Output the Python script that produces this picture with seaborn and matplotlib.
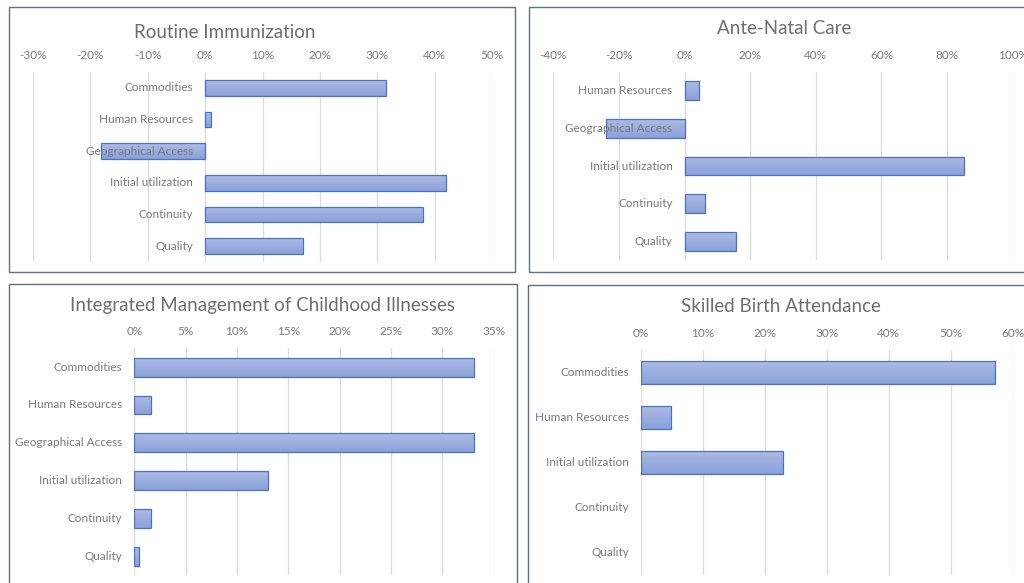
import numpy as np
import pandas as pd
import matplotlib
matplotlib.use("Agg")
import matplotlib.pyplot as plt
from matplotlib.colors import LinearSegmentedColormap
from matplotlib.patches import Rectangle
import seaborn as sns

# ---- data -----------------------------------------------------------------
ri_categories = ["Commodities", "Human Resources", "Geographical Access",
                 "Initial utilization", "Continuity", "Quality"]
ri_values = [0.315, 0.010, -0.181, 0.419, 0.379, 0.170]
ri_ticks = [-0.30, -0.20, -0.10, 0.00, 0.10, 0.20, 0.30, 0.40, 0.50]

anc_categories = ["Human Resources", "Geographical Access", "Initial utilization",
                  "Continuity", "Quality"]
anc_values = [0.044, -0.239, 0.852, 0.062, 0.158]
anc_ticks = [-0.40, -0.20, 0.00, 0.20, 0.40, 0.60, 0.80, 1.00]

imci_categories = ["Commodities", "Human Resources", "Geographical Access",
                   "Initial utilization", "Continuity", "Quality"]
imci_values = [0.331, 0.016, 0.331, 0.130, 0.016, 0.005]
imci_ticks = [0.00, 0.05, 0.10, 0.15, 0.20, 0.25, 0.30, 0.35]

sba_categories = ["Commodities", "Human Resources", "Initial utilization",
                  "Continuity", "Quality"]
sba_values = [0.571, 0.049, 0.230, 0.0, 0.0]
sba_ticks = [0.00, 0.10, 0.20, 0.30, 0.40, 0.50, 0.60]

titles = ["Routine Immunization", "Ante-Natal Care",
          "Integrated Management of Childhood Illnesses", "Skilled Birth Attendance"]

# ---- style ----------------------------------------------------------------
sns.set_style("white")
plt.rcParams["font.family"] = ["Lato", "DejaVu Sans"]

W, H = 1024, 583
fig = plt.figure(figsize=(W / 100, H / 100), dpi=100)
fig.patch.set_facecolor("white")

TEXT = "#7a7a7a"
TITLE = "#6e6e6e"
GRID = "#dcdcdc"
EDGE = "#4a72c4"
FRAME = "#607083"
grad_cmap = LinearSegmentedColormap.from_list("bar", ["#adbbe4", "#8aa1d9"])


def px_axes(left, top, right, bottom):
    return fig.add_axes([left / W, 1 - bottom / H, (right - left) / W, (bottom - top) / H])


def frame(left, top, right, bottom):
    fig.add_artist(Rectangle((left / W, 1 - bottom / H), (right - left) / W,
                             (bottom - top) / H, transform=fig.transFigure,
                             fill=False, edgecolor=FRAME, linewidth=1.0, zorder=0))


panels = [
    # categories, values, ticks, axes box (px), frame box (px), title pos (px)
    (ri_categories, ri_values, ri_ticks, (33, 72, 492, 262), (9, 7, 515, 272), (225, 32)),
    (anc_categories, anc_values, anc_ticks, (553.3, 72, 1012.7, 260), (529, 7, 1030, 272), (784, 28)),
    (imci_categories, imci_values, imci_ticks, (134.3, 348.3, 493.7, 575), (9, 284, 517, 590), (262.5, 305)),
    (sba_categories, sba_values, sba_ticks, (641, 350, 1012.7, 575), (528, 285, 1030, 590), (781, 306)),
]

for (cats, vals, ticks, box, fbox, tpos), title in zip(panels, titles):
    frame(*fbox)
    ax = px_axes(*box)
    df = pd.DataFrame({"category": cats, "value": vals})
    sns.barplot(data=df, x="value", y="category", order=cats, orient="h",
                width=0.5, color="#9aaede", ax=ax, zorder=2)

    n = len(cats)
    ax.set_xlim(ticks[0], ticks[-1])
    ax.set_ylim(n - 0.5, -0.5)

    # gradient fill inside each bar, outlined in blue
    for patch in list(ax.patches):
        x0, y0 = patch.get_x(), patch.get_y()
        w, h = patch.get_width(), patch.get_height()
        if not np.isfinite(w) or abs(w) < 1e-9:
            patch.set_visible(False)
            continue
        patch.set_facecolor("none")
        patch.set_edgecolor(EDGE)
        patch.set_linewidth(0.9)
        patch.set_zorder(3)
        grad = np.linspace(0, 1, 64).reshape(-1, 1)
        im = ax.imshow(grad, cmap=grad_cmap, aspect="auto", interpolation="bilinear",
                       extent=[min(x0, x0 + w), max(x0, x0 + w), y0 + h, y0], zorder=2.5)
        im.set_clip_path(patch)
    ax.set_xlim(ticks[0], ticks[-1])
    ax.set_ylim(n - 0.5, -0.5)

    # grid and percent tick labels along the top
    ax.set_xticks(ticks)
    ax.set_xticklabels([f"{round(t * 100)}%" for t in ticks])
    ax.xaxis.tick_top()
    ax.tick_params(axis="x", length=0, pad=8, labelsize=8.5, labelcolor=TEXT)
    ax.grid(axis="x", color=GRID, linewidth=1.0, zorder=0)
    ax.set_axisbelow(True)
    ax.set_yticks([])
    ax.set_xlabel("")
    ax.set_ylabel("")
    for s in ax.spines.values():
        s.set_visible(False)

    # category names sit next to the zero line
    for i, c in enumerate(cats):
        ax.annotate(c, xy=(0, i), xycoords="data", xytext=(-12, 0),
                    textcoords="offset pixels", ha="right", va="center",
                    fontsize=8.5, color=TEXT, zorder=5, annotation_clip=False)

    fig.text(tpos[0] / W, 1 - tpos[1] / H, title, ha="center", va="center",
             fontsize=13.5, color=TITLE)

fig.savefig("out.png", dpi=100)
